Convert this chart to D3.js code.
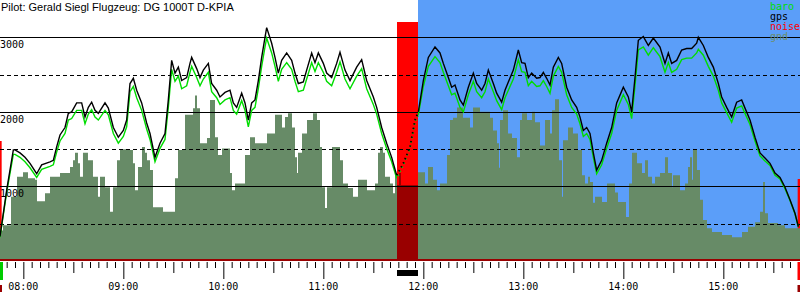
<!DOCTYPE html>
<html>
<head>
<meta charset="utf-8">
<script src="https://cdn.jsdelivr.net/npm/d3@7"></script>
<style>
  body { margin: 0; background: #fff; }
  svg { display: block; }
  .title { font: 11px "Liberation Sans", Arial, sans-serif; fill: #000; }
  .mono { font: 10px "DejaVu Sans Mono", monospace; }
</style>
</head>
<body>
<div id="wrapper"></div>
<script>
const title = "Pilot: Gerald Siegl Flugzeug: DG 1000T D-KPIA";

// gps / baro altitude (m) over clock time
const gpsTime = ["07:46","07:50","07:54","07:55","07:58","08:01","08:04","08:08","08:11","08:16","08:18","08:20","08:22","08:25","08:27","08:29","08:32","08:35","08:37","08:39","08:41","08:43","08:45","08:49","08:51","08:54","08:57","09:00","09:02","09:04","09:06","09:08","09:11","09:14","09:16","09:19","09:22","09:25","09:27","09:29","09:31","09:33","09:35","09:38","09:40","09:41","09:44","09:46","09:48","09:51","09:53","09:56","09:58","10:01","10:04","10:06","10:08","10:11","10:13","10:15","10:17","10:19","10:21","10:23","10:25","10:26","10:29","10:31","10:33","10:35","10:38","10:41","10:43","10:45","10:48","10:50","10:53","10:55","10:57","11:00","11:02","11:05","11:08","11:10","11:13","11:16","11:20","11:23","11:26","11:30","11:32","11:35","11:38","11:41","11:44","11:48","11:52","11:55","11:57","12:00","12:03","12:07","12:10","12:12","12:15","12:17","12:19","12:22","12:24","12:27","12:30","12:32","12:35","12:37","12:39","12:42","12:44","12:47","12:49","12:51","12:54","12:57","12:59","13:01","13:03","13:05","13:08","13:10","13:12","13:14","13:16","13:18","13:21","13:23","13:26","13:29","13:32","13:34","13:36","13:38","13:40","13:42","13:44","13:47","13:50","13:53","13:56","14:00","14:03","14:05","14:07","14:09","14:12","14:15","14:18","14:22","14:25","14:27","14:29","14:32","14:35","14:38","14:41","14:44","14:45","14:48","14:51","14:54","14:57","14:59","15:02","15:05","15:08","15:11","15:13","15:16","15:19","15:22","15:25","15:28","15:31","15:34","15:37","15:40","15:43","15:45"];
const gpsAlt = [330,950,1490,1490,1450,1390,1310,1170,1290,1330,1350,1530,1690,1790,1980,2000,2120,2120,1930,2060,2130,2020,1980,2120,2050,1790,1660,1750,1890,2380,2450,2290,2120,1850,1710,1390,1580,1710,2160,2690,2520,2600,2420,2460,2650,2730,2580,2460,2560,2650,2380,2290,2200,2260,2290,2120,2060,2250,2120,1890,2120,2160,2420,2730,3000,3130,2920,2730,2520,2690,2790,2690,2520,2380,2400,2560,2790,2660,2790,2650,2520,2460,2650,2800,2560,2420,2600,2700,2420,2200,2060,1790,1580,1390,1150,1310,1530,1890,2000,2420,2730,2870,2790,2650,2460,2330,2360,2160,2090,2330,2520,2380,2290,2380,2560,2380,2250,2130,2290,2400,2560,2830,2660,2650,2460,2520,2450,2460,2530,2450,2360,2600,2730,2650,2330,2160,2060,1930,1750,1790,1710,1450,1220,1350,1580,1790,2120,2330,2200,2000,2460,2960,3010,2890,2990,2870,2650,2790,2650,2690,2830,2850,2850,2920,3000,2890,2730,2600,2380,2200,2060,1930,2130,2160,2050,1890,1660,1450,1380,1310,1180,1120,990,820,640,460];
const baroAlt = [320,920,1430,1430,1390,1330,1250,1120,1230,1270,1290,1460,1610,1710,1890,1910,2020,2020,1840,1970,2030,1930,1890,2020,1960,1710,1580,1670,1800,2270,2340,2190,2020,1770,1630,1330,1510,1630,2060,2570,2410,2480,2310,2350,2530,2610,2460,2350,2440,2530,2270,2190,2100,2160,2190,2020,1970,2150,2020,1800,2020,2060,2310,2610,2870,2990,2790,2610,2410,2570,2660,2570,2410,2270,2290,2440,2660,2540,2660,2530,2410,2350,2530,2670,2440,2310,2480,2580,2310,2100,1970,1710,1510,1330,1110,1290,1510,1870,1960,2340,2610,2740,2660,2530,2350,2230,2250,2060,2000,2230,2410,2270,2190,2270,2440,2270,2150,2030,2190,2290,2440,2700,2540,2530,2350,2410,2340,2350,2420,2340,2250,2480,2610,2530,2230,2060,1970,1840,1670,1710,1630,1390,1170,1290,1510,1710,2020,2230,2100,1910,2350,2830,2870,2760,2860,2740,2530,2660,2530,2570,2700,2720,2720,2790,2840,2760,2610,2480,2290,2120,1990,1860,2050,2080,1980,1830,1610,1410,1340,1280,1150,1100,970,810,630,460];

// terrain elevation (m), steps starting at minute of day
const gndMinute = [466,467.8,472.6,476.2,479.8,482.8,487,488.2,493,496,502,508,509.8,511,512.8,514,515.8,518.8,521.8,524.8,526,529,532,533.8,536.2,538,544,545.8,547,548.8,551.2,553,554.2,556,557.8,563.8,571,572.8,577,581.8,583,584.2,586,590.2,592,595,596.8,599.2,604,605.2,607,613,616,619,626.2,631,635.2,637,638.8,641.2,643,644.2,644.8,647.2,650.2,653.8,656.2,658,659.2,661,662.2,665.2,670,671.8,674.8,677.8,680.8,686.2,691,692.8,694,695.8,697,700,701.8,703,704.2,705.4,706.6,716.8,721,722.8,725.8,728.2,730,734.2,736,737.8,740.2,743.8,748,749.8,754,760,761.8,764.2,765.4,766,767.8,770.8,773.2,776.2,778,779.2,782.2,785.2,787,790,793,796,797.2,799,801.4,803.2,803.8,806.8,809.8,812.8,815.2,817,818.8,820,821.8,823,827.2,830.2,835,836.8,841.6,843.4,845.2,848.2,851.2,853,854.8,857.2,859,862,865,866.8,869.2,869.8,874,877,878.8,880,881.2,881.8,884.2,886,887.8,890.2,893.2,899.2,905.2,911.2,914.8,919,922,923.8,925,926.8,932.8,937,946];
const gndAlt = [410,480,860,1130,1190,1110,1090,800,910,1130,1180,1260,1350,1450,1310,1130,1450,1350,1130,860,1130,990,660,990,1350,1500,1490,1310,950,1260,1530,1450,1350,1220,720,660,1110,1490,1960,2050,2220,2050,1580,1650,2160,1660,1420,1510,1180,950,1040,1420,1660,1580,1710,1960,1790,1930,1980,1790,1390,1180,1450,1710,1890,1980,1890,1530,990,710,990,1530,1350,1040,980,860,1090,950,1040,1450,1530,1450,1130,1040,910,1150,1020,1180,1020,1190,1040,1260,1090,950,1040,1420,1890,1920,2060,1920,1790,2060,2000,1920,1750,1580,1250,1890,2020,1710,1650,1390,1890,1980,1890,2000,1860,1550,1890,1710,2020,2170,1350,860,1620,1790,1710,1490,1150,1040,1130,1060,780,860,790,1040,920,790,590,1040,1450,1310,1180,1350,1130,1040,1130,1180,1390,1180,990,1150,950,1040,1260,1390,1090,1490,1220,820,550,440,390,350,320,390,460,520,660,1060,640,510,480,440,440];

// noise level (0..1 of full scale), steps
const noiseMinute = [466,467,473.6,474.2,488.6,489.2,546.2,546.8,704.2,716.8,944.6,946];
const noiseLevel = [0.5,0,0.015,0,0.015,0,0.015,0,1,0,0.34,0.34];

const altGrid = [500,1000,1500,2000,2500,3000];
const altLabels = ["1000","2000","3000"];
const hourLabels = ["08:00","09:00","10:00","11:00","12:00","13:00","14:00","15:00"];
const legendNames = ["baro","gps","noise","gnd"];
const legendColors = ["#00dd00","#000000","#ff0000","#6b8e6b"];
const highlightRange = [716.8, 946];
const engineRun = [704.2, 716.8];

const width = 800, height = 300;
const plotBottom = 261;

const minuteToDate = (m) => new Date(2000, 0, 1, 0, 0, m * 60);
const parseClock = d3.timeParse("%H:%M");
const clockToDate = (s) => { const d = parseClock(s); return new Date(2000, 0, 1, d.getHours(), d.getMinutes()); };

const gps = gpsTime.map((t, i) => ({ t: clockToDate(t), gps: gpsAlt[i], baro: baroAlt[i] }));
const gnd = gndMinute.map((m, i) => ({ t: minuteToDate(m), alt: gndAlt[i] }));
const noise = noiseMinute.map((m, i) => ({ t: minuteToDate(m), level: noiseLevel[i] }));

const x = d3.scaleTime()
  .domain([minuteToDate(466), minuteToDate(946)])
  .range([0, width]);
const y = d3.scaleLinear().domain([0, 3500]).range([plotBottom, 0]);
const noiseY = d3.scaleLinear().domain([0, 1]).range([260, 22]);

const svg = d3.select("#wrapper").append("svg")
  .attr("width", width).attr("height", height);

const engineFrom = minuteToDate(engineRun[0]);
const engineTo = minuteToDate(engineRun[1]);

const defs = svg.append("defs");
defs.append("clipPath").attr("id", "engine-clip")
  .append("rect")
  .attr("x", x(engineFrom))
  .attr("width", x(engineTo) - x(engineFrom))
  .attr("y", 0).attr("height", plotBottom);

// highlighted part of the flight
svg.append("rect")
  .attr("x", x(minuteToDate(highlightRange[0])))
  .attr("y", 0)
  .attr("width", x(minuteToDate(highlightRange[1])) - x(minuteToDate(highlightRange[0])))
  .attr("height", plotBottom)
  .attr("fill", "#5b9ef9");

// noise
const noiseArea = d3.area()
  .curve(d3.curveStepAfter)
  .x((d) => x(d.t))
  .y0(noiseY(0))
  .y1((d) => noiseY(d.level));
svg.append("path").attr("d", noiseArea(noise)).attr("fill", "#ff0000");

// ground
const gndArea = d3.area()
  .curve(d3.curveStepAfter)
  .x((d) => x(d.t))
  .y0(y(0))
  .y1((d) => y(d.alt));
svg.append("path").attr("d", gndArea(gnd)).attr("fill", "#678b67");
svg.append("path").attr("d", gndArea(gnd)).attr("fill", "#990000")
  .attr("clip-path", "url(#engine-clip)");

// noise baseline
svg.append("line")
  .attr("x1", 0).attr("x2", width)
  .attr("y1", 260).attr("y2", 260)
  .attr("stroke", "#990000").attr("stroke-width", 2);

// altitude grid
svg.append("g").selectAll("line")
  .data(altGrid)
  .join("line")
  .attr("x1", 0).attr("x2", width)
  .attr("y1", (d) => Math.round(y(d)) + 0.5)
  .attr("y2", (d) => Math.round(y(d)) + 0.5)
  .attr("stroke", "#000")
  .attr("stroke-width", 1)
  .attr("stroke-dasharray", (d) => (d % 1000 === 0 ? null : "4,3"));

svg.append("g").selectAll("text")
  .data(altLabels)
  .join("text")
  .attr("class", "mono")
  .attr("x", 0)
  .attr("y", (d) => Math.round(y(+d)) + 11)
  .text((d) => d);

// baro and gps, dotted while the engine runs
const fromMs = +engineFrom, toMs = +engineTo;
const inEngine = (d) => +d.t > fromMs && +d.t < toMs - 60000;
const engineData = gps.filter((d) => +d.t >= fromMs - 30000 && +d.t <= toMs + 30000);

function drawSeries(key, color, dashOffset) {
  const line = d3.line()
    .x((d) => x(d.t))
    .y((d) => y(d[key]));
  svg.append("path")
    .attr("d", line.defined((d) => !inEngine(d))(gps))
    .attr("fill", "none")
    .attr("stroke", color)
    .attr("stroke-width", 1.4);
  svg.append("path")
    .attr("d", d3.line().x((d) => x(d.t)).y((d) => y(d[key]))(engineData))
    .attr("fill", "none")
    .attr("stroke", color)
    .attr("stroke-width", 1.8)
    .attr("stroke-dasharray", "1.5,3")
    .attr("stroke-dashoffset", dashOffset);
}
drawSeries("baro", "#00dd00", 2);
drawSeries("gps", "#000000", 0);

// time axis
const xAxis = d3.axisBottom(x)
  .ticks(d3.timeMinute.every(5))
  .tickSize(6)
  .tickFormat("");
const axisG = svg.append("g")
  .attr("transform", `translate(0,${plotBottom + 1})`)
  .call(xAxis);
axisG.select(".domain").remove();
axisG.selectAll(".tick line")
  .attr("stroke", "#000")
  .attr("y2", (d) => (d.getMinutes() === 0 ? 17 : d.getMinutes() === 30 ? 11 : 6));

svg.append("g").selectAll("text")
  .data(hourLabels)
  .join("text")
  .attr("class", "mono")
  .attr("x", (d) => x(clockToDate(d)))
  .attr("y", 290)
  .attr("text-anchor", "middle")
  .text((d) => d);

// engine run marker and start / landing markers
svg.append("rect")
  .attr("x", x(engineFrom))
  .attr("y", 270)
  .attr("width", x(engineTo) - x(engineFrom))
  .attr("height", 6)
  .attr("fill", "#000");
svg.append("rect").attr("x", 0).attr("y", 262).attr("width", 3).attr("height", 18).attr("fill", "#00cc00");
svg.append("rect").attr("x", 0).attr("y", 285).attr("width", 2).attr("height", 7).attr("fill", "#990000");
svg.append("rect").attr("x", 797.5).attr("y", 262).attr("width", 2.5).attr("height", 18).attr("fill", "#ff0000");
svg.append("rect").attr("x", 797.5).attr("y", 285).attr("width", 2.5).attr("height", 7).attr("fill", "#990000");

// title and legend
svg.append("text").attr("class", "title").attr("x", 1).attr("y", 11).text(title);

svg.append("g").selectAll("text")
  .data(legendNames)
  .join("text")
  .attr("class", "mono")
  .attr("x", 770)
  .attr("y", (d, i) => 10 + i * 10)
  .attr("fill", (d, i) => legendColors[i])
  .text((d) => d);
</script>
</body>
</html>
